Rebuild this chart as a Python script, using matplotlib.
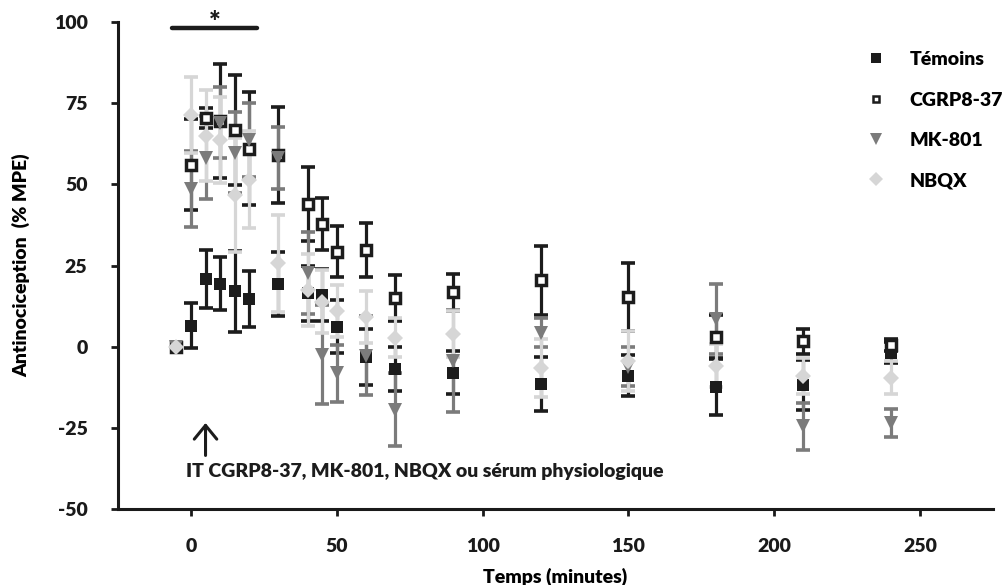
import matplotlib
matplotlib.use("Agg")
import matplotlib.pyplot as plt
from matplotlib.lines import Line2D

plt.rcParams['font.family'] = ['Lato', 'DejaVu Sans']
plt.rcParams['font.weight'] = 'heavy'
plt.rcParams['axes.unicode_minus'] = False

# ---------------- data ----------------
times = [-5, 0, 5, 10, 15, 20, 30, 40, 45, 50, 60, 70, 90, 120, 150, 180, 210, 240]

temoins_mean = [0, 6.5, 20.8, 19.4, 17.0, 14.7, 19.3, 16.5, 16.0, 6.2, -3.2, -7.0, -8.0, -11.5, -9.0, -12.3, -11.7, -1.8]
temoins_err = [0, 6.9, 9.0, 8.2, 12.5, 8.5, 10.0, 8.5, 8.0, 8.2, 8.7, 6.8, 6.7, 8.2, 6.3, 8.8, 7.7, 3.2]

cgrp_mean = [0, 56.0, 70.5, 69.5, 66.8, 61.0, 59.0, 44.0, 37.8, 29.3, 29.8, 15.0, 16.7, 20.4, 15.3, 3.0, 1.6, 0.6]
cgrp_err = [0, 14.0, 3.0, 17.5, 17.0, 17.4, 14.7, 11.4, 8.0, 7.8, 8.2, 7.2, 5.8, 10.7, 10.4, 6.8, 3.8, 1.8]

mk_mean = [0, 48.5, 58.2, 69.0, 59.7, 63.7, 58.2, 22.7, -2.5, -8.2, -2.8, -19.4, -4.5, 4.3, -6.2, 8.5, -24.5, -23.5]
mk_err = [0, 11.7, 12.7, 11.0, 12.5, 11.3, 9.5, 12.5, 15.3, 8.8, 12.2, 11.3, 15.7, 4.5, 6.0, 10.8, 7.2, 4.2]

nbqx_mean = [0, 71.4, 65.0, 63.7, 46.8, 51.4, 25.7, 17.5, 13.9, 10.9, 9.2, 2.7, 3.9, -6.5, -4.4, -5.8, -9.0, -9.5]
nbqx_err = [0, 11.7, 14.0, 13.3, 17.5, 15.0, 15.0, 11.0, 9.8, 8.0, 8.1, 6.0, 7.0, 9.0, 9.3, 6.6, 5.5, 5.0]

series_labels = ['Témoins', 'CGRP8-37', 'MK-801', 'NBQX']

x_ticks = [0, 50, 100, 150, 200, 250]
y_ticks = [-50, -25, 0, 25, 50, 75, 100]
y_tick_labels = ['-50', '-25', '0', '25', '50', '75', '100']

sig_start, sig_end, sig_level = -6.5, 22.5, 98.2
star_level = 97.2
arrow_time, arrow_tip, arrow_tail = 5, -23.5, -33.5
note_text = 'IT CGRP8-37, MK-801, NBQX ou sérum physiologique'
note_x, note_y = -1.7, -38.3

FS = 14

# ---------------- figure ----------------
fig = plt.figure(figsize=(10.02, 5.85), dpi=100)
ax = fig.add_axes([0.1178, 0.1299, 0.991 - 0.1178, 0.9624 - 0.1299])

c_black = '#1c1c1c'
c_dark = '#7b7b7b'
c_light = '#d6d6d6'

data = [
    (temoins_mean, temoins_err, dict(marker='s', ms=8.5, mfc=c_black, mec=c_black, mew=0), c_black),
    (cgrp_mean, cgrp_err, dict(marker='s', ms=6.6, mfc='white', mec=c_black, mew=2.5), c_black),
    (mk_mean, mk_err, dict(marker='v', ms=10.5, mfc=c_dark, mec=c_dark, mew=0), c_dark),
    (nbqx_mean, nbqx_err, dict(marker='D', ms=8.5, mfc=c_light, mec=c_light, mew=0), c_light),
]

# error bars first (all series), then markers (Excel-like drawing order)
for i, (m, e, mk, col) in enumerate(data):
    ax.errorbar(times, m, yerr=e, fmt='none', ecolor=col, elinewidth=2.3,
                capsize=4.8, capthick=2.6, zorder=2 + i * 0.1)
for i, (m, e, mk, col) in enumerate(data):
    ax.plot(times, m, linestyle='none', zorder=4 + i * 0.1, **mk)

ax.set_xlim(-25, 275)
ax.set_ylim(-50, 100)
ax.set_xticks(x_ticks)
ax.set_yticks(y_ticks)
ax.set_yticklabels(y_tick_labels)

for s in ['top', 'right']:
    ax.spines[s].set_visible(False)
for s in ['left', 'bottom']:
    ax.spines[s].set_linewidth(2.2)
    ax.spines[s].set_color('#1a1a1a')

ax.tick_params(axis='y', direction='out', length=5, width=2, pad=17, labelsize=FS, colors='#1a1a1a')
ax.tick_params(axis='x', direction='out', length=5, width=2, pad=16, labelsize=FS, colors='#1a1a1a')
for lab in ax.get_xticklabels() + ax.get_yticklabels():
    lab.set_fontweight('heavy')

ax.set_xlabel('Temps (minutes)', fontsize=FS, fontweight='heavy', labelpad=9)
ax.set_ylabel('Antinociception  (% MPE)', fontsize=FS, fontweight='heavy', labelpad=17)

# significance bar and asterisk
ax.plot([sig_start, sig_end], [sig_level, sig_level], color=c_black, lw=3.2,
        solid_capstyle='round', clip_on=False, zorder=6)
ax.text((sig_start + sig_end) / 2, star_level, '*', ha='center', va='baseline',
        fontsize=20, fontweight='heavy', color=c_black, clip_on=False)

# arrow and note
ax.annotate('', xy=(arrow_time, arrow_tip), xytext=(arrow_time, arrow_tail),
            arrowprops=dict(arrowstyle='->,head_length=0.55,head_width=0.45',
                            color=c_black, lw=2.2, mutation_scale=18, shrinkA=0, shrinkB=0))
ax.text(note_x, note_y, note_text, ha='left', va='center', fontsize=FS,
        fontweight='heavy', color=c_black)

# legend
handles = [Line2D([], [], linestyle='none', **data[0][2]),
           Line2D([], [], linestyle='none', **data[1][2]),
           Line2D([], [], linestyle='none', **data[2][2]),
           Line2D([], [], linestyle='none', **data[3][2])]
handles[0].set_markersize(7)
handles[1].set_markersize(5.0)
handles[1].set_markeredgewidth(1.8)
handles[2].set_markersize(9)
handles[3].set_markersize(7)
leg = ax.legend(handles, series_labels, loc='upper left', bbox_to_anchor=(0.855, 0.94),
                frameon=False, fontsize=FS, handlelength=1.0, handletextpad=1.25,
                labelspacing=1.2, borderpad=0, borderaxespad=0)
for t in leg.get_texts():
    t.set_fontweight('heavy')

fig.savefig('out.png', dpi=100)
